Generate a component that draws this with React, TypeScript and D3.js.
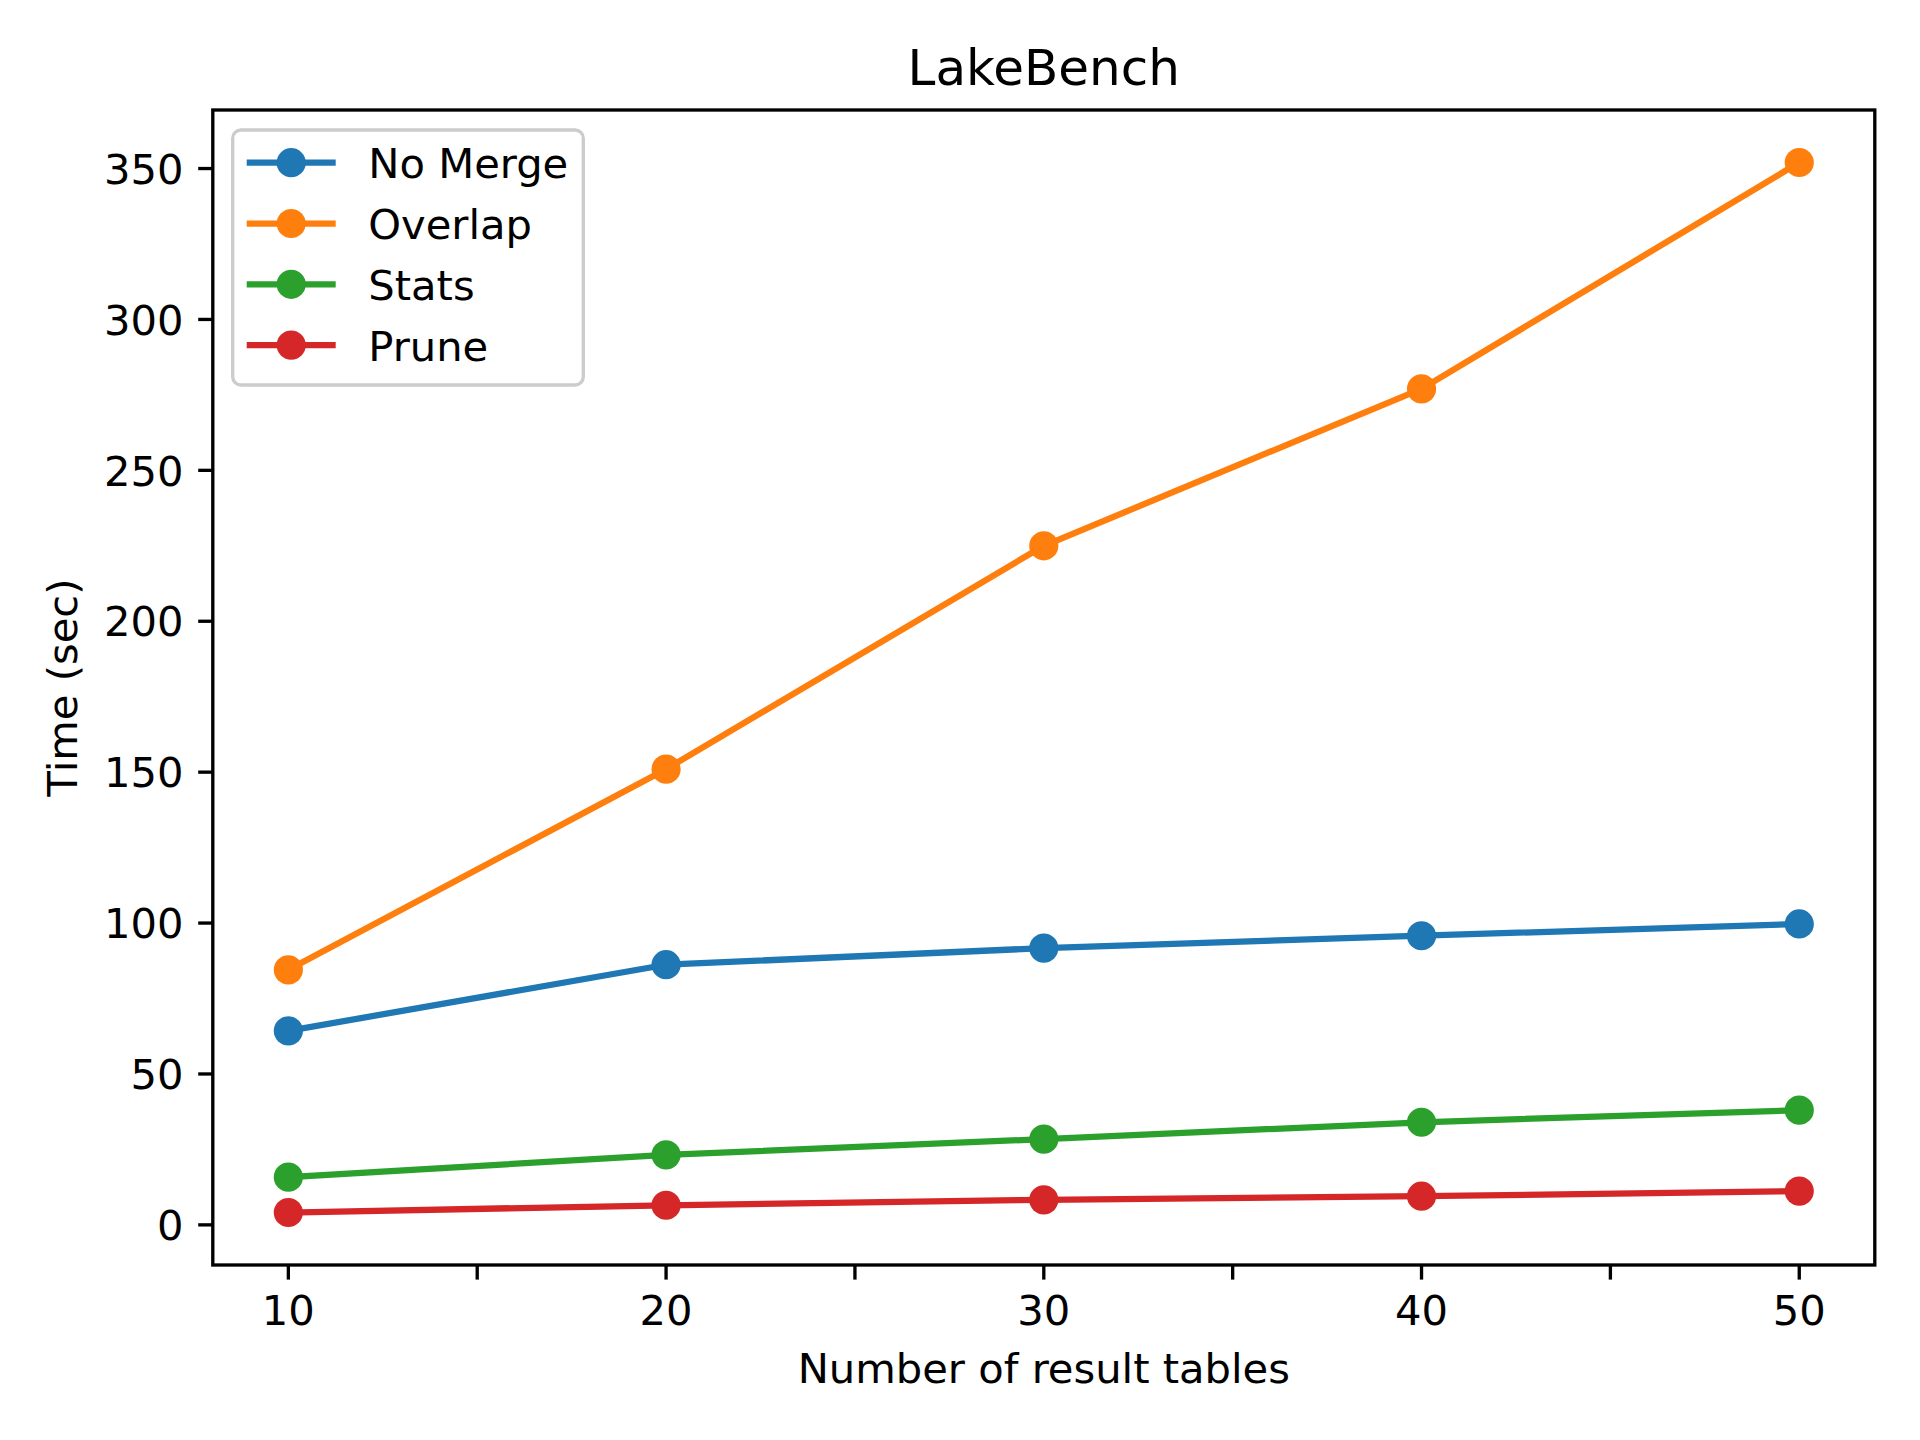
import * as React from 'react';
import * as d3 from 'd3';

const tables: number[] = [10, 20, 30, 40, 50];
const noMerge: number[] = [64.3, 86.2, 91.7, 95.8, 99.7];
const overlap: number[] = [84.5, 151, 225, 277, 352];
const stats: number[] = [15.8, 23.2, 28.4, 34.0, 38.0];
const prune: number[] = [4.1, 6.5, 8.3, 9.5, 11.2];

const seriesNames: string[] = ['No Merge', 'Overlap', 'Stats', 'Prune'];
const seriesColors: string[] = ['#1f77b4', '#ff7f0e', '#2ca02c', '#d62728'];

const xTicks: number[] = [10, 15, 20, 25, 30, 35, 40, 45, 50];
const xTickLabels: number[] = [10, 20, 30, 40, 50];
const yTicks: number[] = [0, 50, 100, 150, 200, 250, 300, 350];

const W = 1920;
const H = 1440;
const FONT = "'DejaVu Sans', sans-serif";

class App extends React.Component {
	private svgRef = React.createRef<SVGSVGElement>();

	public render() {
		return (
			<div style={{ position: 'absolute', left: 0, top: 0 }}>
				<svg ref={this.svgRef} width={W} height={H} viewBox={`0 0 ${W} ${H}`} style={{ display: 'block', background: '#fff' }} />
			</div>
		);
	}

	public componentDidMount() {
		this.draw();
	}

	private draw() {
		const svg = d3.select(this.svgRef.current);
		svg.selectAll('*').remove();

		const left = 212.8;
		const right = 1874.8;
		const top = 110;
		const bottom = 1265;
		const fs = 41.67;
		const tickLen = 14.6;
		const pad = 14.6;

		const all = [...noMerge, ...overlap, ...stats, ...prune];
		const yMin = d3.min(all) as number;
		const yMax = d3.max(all) as number;
		const ym = (yMax - yMin) * 0.05;
		const xMin = d3.min(tables) as number;
		const xMax = d3.max(tables) as number;
		const xm = (xMax - xMin) * 0.05;

		const x = d3.scaleLinear().domain([xMin - xm, xMax + xm]).range([left, right]);
		const y = d3.scaleLinear().domain([yMin - ym, yMax + ym]).range([bottom, top]);

		svg.append('rect').attr('width', W).attr('height', H).attr('fill', '#fff');

		const series = [noMerge, overlap, stats, prune];

		const line = d3
			.line<number>()
			.x((_d, i) => x(tables[i]))
			.y((d) => y(d));

		const plot = svg.append('g');
		series.forEach((vals, si) => {
			plot.append('path')
				.datum(vals)
				.attr('d', line)
				.attr('fill', 'none')
				.attr('stroke', seriesColors[si])
				.attr('stroke-width', 6.25)
				.attr('stroke-linejoin', 'round')
				.attr('stroke-linecap', 'square');
			plot.selectAll(null)
				.data(vals)
				.enter()
				.append('circle')
				.attr('cx', (_d, i) => x(tables[i]))
				.attr('cy', (d) => y(d))
				.attr('r', 14.6)
				.attr('fill', seriesColors[si]);
		});

		// ticks
		const axes = svg.append('g').attr('stroke', '#000').attr('stroke-width', 3.33);
		axes.selectAll(null)
			.data(xTicks)
			.enter()
			.append('line')
			.attr('x1', (d) => x(d))
			.attr('x2', (d) => x(d))
			.attr('y1', bottom)
			.attr('y2', bottom + tickLen);
		axes.selectAll(null)
			.data(yTicks)
			.enter()
			.append('line')
			.attr('x1', left)
			.attr('x2', left - tickLen)
			.attr('y1', (d) => y(d))
			.attr('y2', (d) => y(d));

		// spines
		svg.append('rect')
			.attr('x', left)
			.attr('y', top)
			.attr('width', right - left)
			.attr('height', bottom - top)
			.attr('fill', 'none')
			.attr('stroke', '#000')
			.attr('stroke-width', 3.33)
			.attr('stroke-linejoin', 'miter');

		const labels = svg.append('g').attr('font-family', FONT).attr('fill', '#000');
		labels.selectAll(null)
			.data(xTickLabels)
			.enter()
			.append('text')
			.attr('x', (d) => x(d))
			.attr('y', 1325)
			.attr('text-anchor', 'middle')
			.attr('font-size', fs)
			.text((d) => String(d));
		labels.selectAll(null)
			.data(yTicks)
			.enter()
			.append('text')
			.attr('x', left - tickLen - pad)
			.attr('y', (d) => y(d))
			.attr('dy', '0.365em')
			.attr('text-anchor', 'end')
			.attr('font-size', fs)
			.text((d) => String(d));

		const cx = (left + right) / 2;
		labels.append('text').attr('x', cx).attr('y', 85).attr('text-anchor', 'middle').attr('font-size', 50).text('LakeBench');
		labels.append('text').attr('x', cx).attr('y', 1383).attr('text-anchor', 'middle').attr('font-size', fs).text('Number of result tables');
		labels.append('text')
			.attr('transform', `translate(77.4,${(top + bottom) / 2}) rotate(-90)`)
			.attr('text-anchor', 'middle')
			.attr('font-size', fs)
			.text('Time (sec)');

		// legend
		const lg = svg.append('g');
		lg.append('rect')
			.attr('x', 232.7)
			.attr('y', 130)
			.attr('width', 350.6)
			.attr('height', 255)
			.attr('rx', 8.3)
			.attr('fill', '#fff')
			.attr('fill-opacity', 0.8)
			.attr('stroke', '#cccccc')
			.attr('stroke-width', 3.33);
		seriesNames.forEach((name, i) => {
			const ry = 162.7 + i * 60.8;
			lg.append('line')
				.attr('x1', 246.7)
				.attr('x2', 335.7)
				.attr('y1', ry)
				.attr('y2', ry)
				.attr('stroke', seriesColors[i])
				.attr('stroke-width', 6.25);
			lg.append('circle').attr('cx', 291.2).attr('cy', ry).attr('r', 14.6).attr('fill', seriesColors[i]);
			lg.append('text')
				.attr('x', 368.3)
				.attr('y', ry + 15.5)
				.attr('font-family', FONT)
				.attr('font-size', fs)
				.attr('fill', '#000')
				.text(name);
		});
	}
}

export default App;
